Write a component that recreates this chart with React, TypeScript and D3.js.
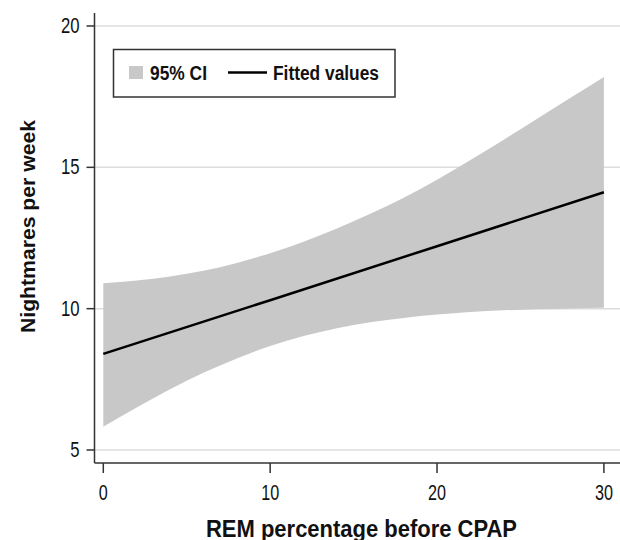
import React from "react";
import * as d3 from "d3";

const bandX = [0, 2, 4, 6, 8, 10, 12, 14, 16, 18, 20, 22, 24, 26, 28, 30];
const bandUpper = [10.9, 11.0, 11.14, 11.34, 11.62, 11.96, 12.37, 12.84, 13.36, 13.92, 14.56, 15.26, 15.98, 16.72, 17.46, 18.2];
const bandLower = [5.82, 6.5, 7.15, 7.73, 8.24, 8.68, 9.03, 9.31, 9.52, 9.67, 9.79, 9.88, 9.94, 9.98, 10.01, 10.03];
const fitX = [0, 10, 20, 30];
const fitY = [8.4, 10.3, 12.21, 14.12];
const xTicks = [0, 10, 20, 30];
const yTicks = [5, 10, 15, 20];
const xTitle = "REM percentage before CPAP";
const yTitle = "Nightmares per week";
const legendLabels = ["95% CI", "Fitted values"];

const FONT = "'Liberation Sans', Arial, sans-serif";

export default function App() {
  const W = 620, H = 540;
  const x = d3.scaleLinear().domain([0, 30]).range([103.3, 603.9]);
  const y = d3.scaleLinear().domain([5, 20]).range([450, 26]);
  const axisLeft = 94.5, axisBottom = 463, axisTop = 13, right = 620;

  const band = bandX.map((v, i) => ({ x: v, lo: bandLower[i], hi: bandUpper[i] }));
  const area = d3.area<any>().x(d => x(d.x)).y0(d => y(d.lo)).y1(d => y(d.hi)).curve(d3.curveMonotoneX);
  const fit = fitX.map((v, i) => ({ x: v, y: fitY[i] }));
  const line = d3.line<any>().x(d => x(d.x)).y(d => y(d.y));

  return (
    <svg width={W} height={H} style={{ position: "absolute", left: 0, top: 0, background: "#fff" }} fontFamily={FONT}>
      <rect width={W} height={H} fill="#fff" />
      {yTicks.map(t => (
        <line key={"g" + t} x1={axisLeft} x2={right} y1={y(t)} y2={y(t)} stroke="#dcdcdc" strokeWidth={1.5} />
      ))}
      <path d={area(band) || ""} fill="#c8c8c8" />
      <path d={line(fit) || ""} fill="none" stroke="#000" strokeWidth={2.5} />
      <line x1={axisLeft} x2={axisLeft} y1={axisTop} y2={axisBottom} stroke="#333" strokeWidth={1.5} />
      <line x1={axisLeft} x2={right} y1={axisBottom} y2={axisBottom} stroke="#333" strokeWidth={1.5} />
      {yTicks.map(t => {
        const s = String(t);
        return (
          <g key={"y" + t}>
            <line x1={86.5} x2={axisLeft} y1={y(t)} y2={y(t)} stroke="#333" strokeWidth={1.5} />
            <text x={79.5} y={y(t) + 7} textAnchor="end" fontSize={22} fill="#111"
              textLength={s.length * 9.3} lengthAdjust="spacingAndGlyphs">{s}</text>
          </g>
        );
      })}
      {xTicks.map(t => {
        const s = String(t);
        return (
          <g key={"x" + t}>
            <line x1={x(t)} x2={x(t)} y1={axisBottom} y2={473} stroke="#333" strokeWidth={1.5} />
            <text x={x(t)} y={499.5} textAnchor="middle" fontSize={22} fill="#111"
              textLength={s.length * 9} lengthAdjust="spacingAndGlyphs">{s}</text>
          </g>
        );
      })}
      <text x={361.5} y={536.5} textAnchor="middle" fontSize={24} fontWeight="bold" fill="#111"
        textLength={311} lengthAdjust="spacingAndGlyphs">{xTitle}</text>
      <text transform={`translate(34.5,226.5) rotate(-90)`} textAnchor="middle" fontSize={21} fontWeight="bold" fill="#111"
        textLength={213} lengthAdjust="spacingAndGlyphs">{yTitle}</text>
      <rect x={113.5} y={49.5} width={281.5} height={47.5} fill="#fff" stroke="#333" strokeWidth={1.5} />
      <rect x={129} y={66} width={14} height={13} fill="#c8c8c8" />
      <text x={150} y={80} fontSize={19.5} fontWeight="bold" fill="#111"
        textLength={57} lengthAdjust="spacingAndGlyphs">{legendLabels[0]}</text>
      <line x1={228} x2={267} y1={72.5} y2={72.5} stroke="#000" strokeWidth={2.5} />
      <text x={273} y={80} fontSize={19.5} fontWeight="bold" fill="#111"
        textLength={106} lengthAdjust="spacingAndGlyphs">{legendLabels[1]}</text>
    </svg>
  );
}
